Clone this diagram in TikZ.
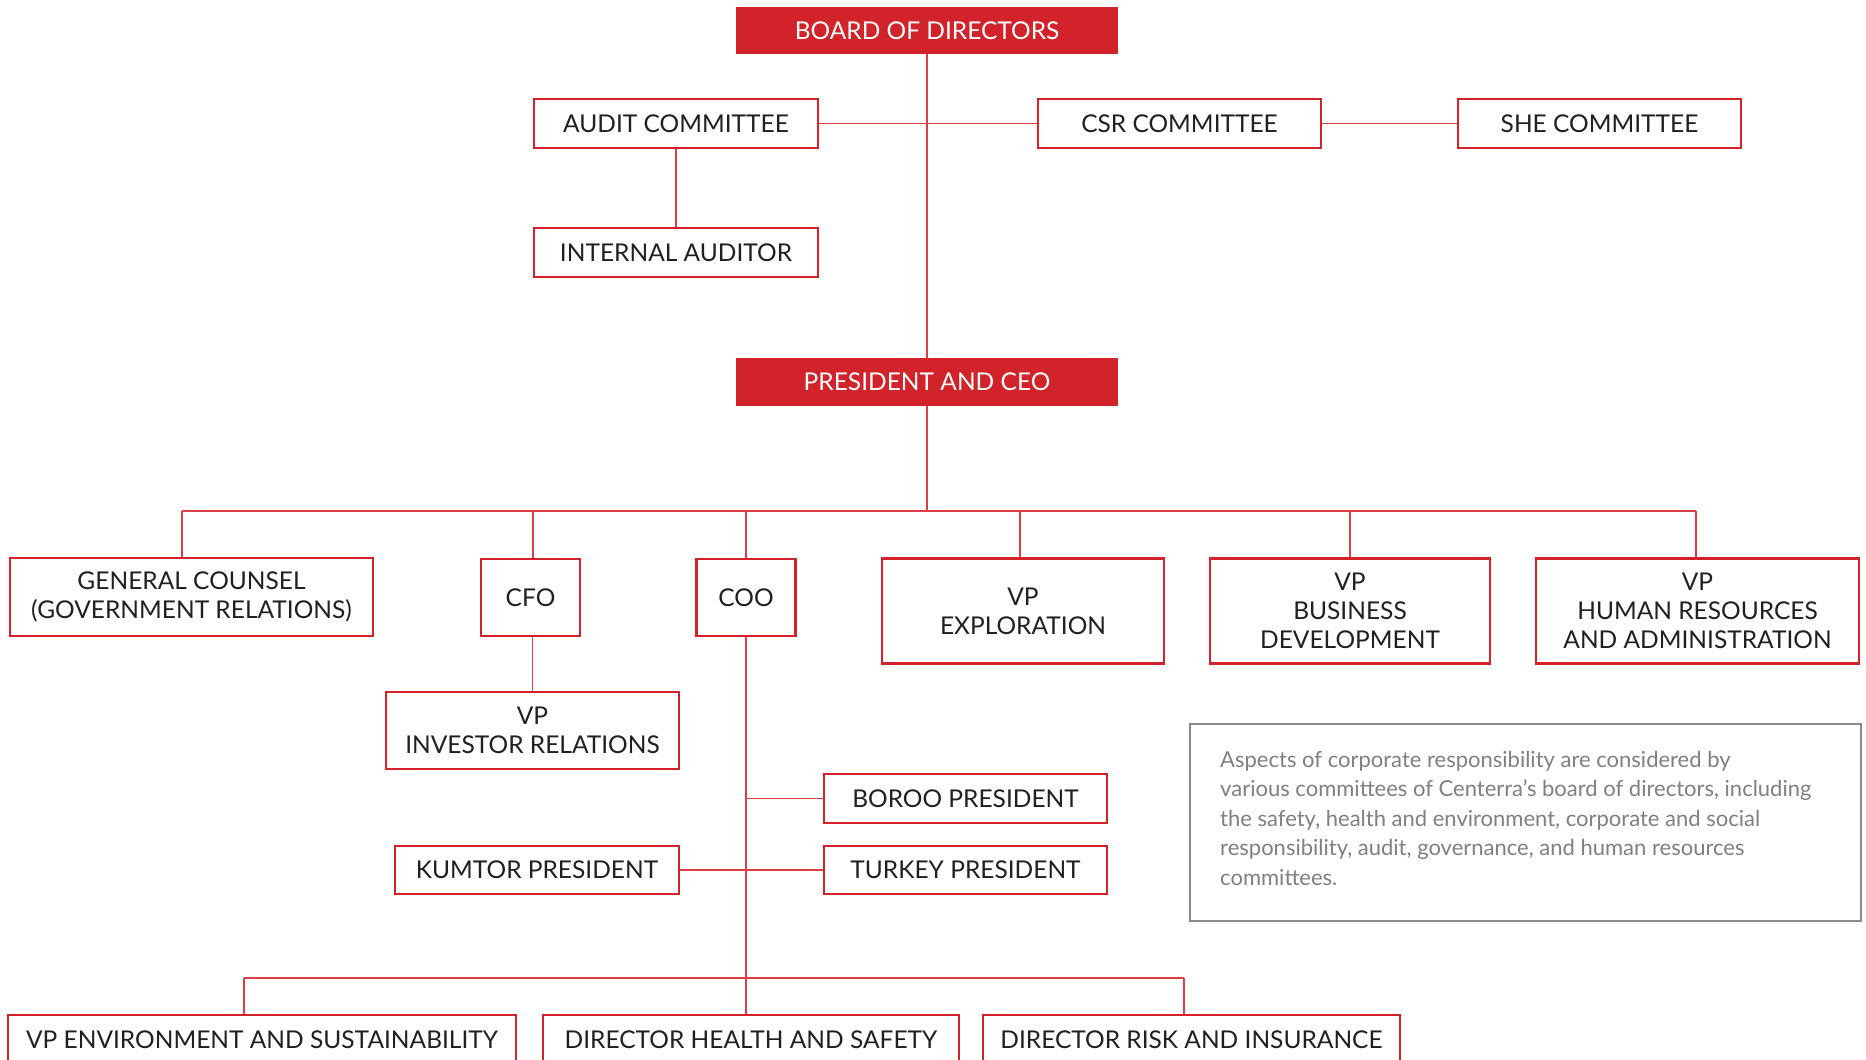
\documentclass[tikz,border=0pt]{standalone}
\usepackage{fontspec}
\setmainfont{Lato}
\definecolor{cred}{HTML}{D2232A}
\definecolor{cline}{HTML}{DD3F47}
\definecolor{ctext}{HTML}{231F20}
\definecolor{cgray}{HTML}{7F7F84}
\definecolor{cnote}{HTML}{8A8A8E}
\begin{document}
\begin{tikzpicture}[x=1pt,y=-1pt,
  box/.style={draw=cred, line width=2.6pt, fill=white, inner sep=0pt, align=center, text=ctext, font=\fontsize{24.5}{29}\selectfont},
  redbox/.style={fill=cred, inner sep=0pt, align=center, text=white, font=\fontsize{24.5}{29}\selectfont},
  conn/.style={draw=cline, line width=1.6pt}]
\useasboundingbox (0,0) rectangle (1866,1060);
\clip (0,0) rectangle (1866,1060);
\fill[white] (0,0) rectangle (1866,1060);

\coordinate (busC) at (927,511);
\coordinate (jGC) at (182,511);
\coordinate (jCFO) at (533,511);
\coordinate (jCOO) at (746,511);
\coordinate (jEXP) at (1020,511);
\coordinate (jBD) at (1350,511);
\coordinate (jHR) at (1696,511);
\coordinate (bbC) at (746,978);
\coordinate (jENV) at (244,978);
\coordinate (jRISK) at (1184,978);

% nodes
\node[redbox, minimum width=382pt, minimum height=47pt] (board) at (927,30.5) {BOARD OF DIRECTORS};
\node[box, minimum width=284pt, minimum height=49pt] (audit) at (676,123.5) {AUDIT COMMITTEE};
\node[box, minimum width=283pt, minimum height=49pt] (csr) at (1179.5,123.5) {CSR COMMITTEE};
\node[box, minimum width=283pt, minimum height=49pt] (she) at (1599.5,123.5) {SHE COMMITTEE};
\node[box, minimum width=284pt, minimum height=49pt] (ia) at (676,252.5) {INTERNAL AUDITOR};
\node[redbox, minimum width=382pt, minimum height=48pt] (ceo) at (927,382) {PRESIDENT AND CEO};

\node[box, minimum width=363pt, minimum height=78pt] (gc) at (191.5,597) {GENERAL COUNSEL\\(GOVERNMENT RELATIONS)};
\node[box, minimum width=99pt, minimum height=77pt] (cfo) at (530.5,597.5) {CFO};
\node[box, minimum width=99pt, minimum height=77pt] (coo) at (746,597.5) {COO};
\node[box, minimum width=282pt, minimum height=105pt] (exp) at (1023,611) {VP\\EXPLORATION};
\node[box, minimum width=280pt, minimum height=105pt] (bd) at (1350,611) {VP\\BUSINESS\\DEVELOPMENT};
\node[box, minimum width=323pt, minimum height=105pt] (hr) at (1697.5,611) {VP\\HUMAN RESOURCES\\AND ADMINISTRATION};

\node[box, minimum width=293pt, minimum height=77pt] (ir) at (532.5,730.5) {VP\\INVESTOR RELATIONS};
\node[box, minimum width=283pt, minimum height=49pt] (boroo) at (965.5,798.5) {BOROO PRESIDENT};
\node[box, minimum width=284pt, minimum height=48pt] (kumtor) at (537,870) {KUMTOR PRESIDENT};
\node[box, minimum width=283pt, minimum height=48pt] (turkey) at (965.5,870) {TURKEY PRESIDENT};

\node[box, minimum width=508pt, minimum height=49pt] (env) at (262,1039.5) {VP ENVIRONMENT AND SUSTAINABILITY};
\node[box, minimum width=416pt, minimum height=49pt] (hs) at (751,1039.5) {DIRECTOR HEALTH AND SAFETY};
\node[box, minimum width=417pt, minimum height=49pt] (risk) at (1191.5,1039.5) {DIRECTOR RISK AND INSURANCE};

% note
\node[draw=cnote, line width=1.4pt, minimum width=671pt, minimum height=197pt, inner sep=0pt] (notebox) at (1525.5,822.5) {};
\node[anchor=west, inner sep=0pt, align=left, text=cgray, font=\fontsize{22}{29.5}\selectfont] (notetext) at (1220,818)
 {Aspects of corporate responsibility are considered by\\
  various committees of Centerra’s board of directors, including\\
  the safety, health and environment, corporate and social\\
  responsibility, audit, governance, and human resources\\
  committees.};

% connectors
\draw[conn] (board.south) -- (ceo.north);
\draw[conn] (audit.east) -- (csr.west);
\draw[conn] (csr.east) -- (she.west);
\draw[conn] (audit.south) -- (ia.north);
\draw[conn] (ceo.south) -- (busC);
\draw[conn] (jGC) -- (jHR);
\draw[conn] (jGC) -- (jGC |- gc.north);
\draw[conn] (jCFO) -- (jCFO |- cfo.north);
\draw[conn] (jCOO) -- (coo.north);
\draw[conn] (jEXP) -- (jEXP |- exp.north);
\draw[conn] (jBD) -- (bd.north);
\draw[conn] (jHR) -- (jHR |- hr.north);
\draw[conn] (cfo.south -| ir.north) -- (ir.north);
\draw[conn] (coo.south) -- (bbC);
\draw[conn] (coo.south |- boroo.west) -- (boroo.west);
\draw[conn] (kumtor.east) -- (turkey.west);
\draw[conn] (jENV) -- (jRISK);
\draw[conn] (jENV) -- (jENV |- env.north);
\draw[conn] (bbC) -- (hs.north -| bbC);
\draw[conn] (jRISK) -- (jRISK |- risk.north);
\end{tikzpicture}
\end{document}
